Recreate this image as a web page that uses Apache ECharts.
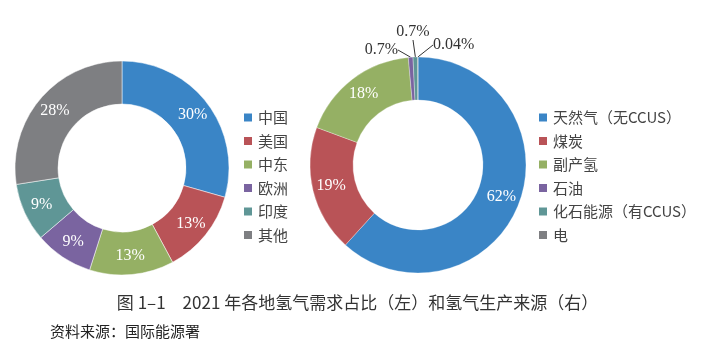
<!DOCTYPE html>
<html>
<head>
<meta charset="utf-8">
<script src="https://cdn.jsdelivr.net/npm/echarts@6/dist/echarts.min.js"></script>
<style>
  html, body { margin: 0; padding: 0; background: #fff; }
  #main { width: 715px; height: 354px; }
</style>
</head>
<body>
<div id="main"></div>
<script>
// 左：各地氢气需求占比
var demandNames = ['中国', '美国', '中东', '欧洲', '印度', '其他'];
var demandValues = [30, 13, 13, 9, 9, 28];
var demandLabels = ['30%', '13%', '13%', '9%', '9%', '28%'];

// 右：氢气生产来源
var sourceNames = ['天然气（无CCUS）', '煤炭', '副产氢', '石油', '化石能源（有CCUS）', '电'];
var sourceValues = [62, 19, 18, 0.7, 0.7, 0.04];
var sourceLabels = ['62%', '19%', '18%', '0.7%', '0.7%', '0.04%'];

var colors = ['#3a85c6', '#b95357', '#95b064', '#7a64a0', '#5f9696', '#7e7f82'];

var serif = 'Liberation Serif';
var cjk = 'Noto Sans CJK SC';

function buildData(names, values, labels, outside) {
    return names.map(function (n, i) {
        var item = { name: n, value: values[i], pct: labels[i] };
        if (outside.indexOf(i) >= 0) {
            item.label = { position: 'outside', color: '#333' };
            item.labelLine = { show: true, length: 6, length2: 0, smooth: false, lineStyle: { color: '#333', width: 1 } };
        }
        return item;
    });
}

var myChart = echarts.init(document.getElementById('main'));

myChart.setOption({
    color: colors,
    animation: false,
    title: [
        {
            text: '图 1–1　2021 年各地氢气需求占比（左）和氢气生产来源（右）',
            left: 'center',
            top: 289,
            textStyle: { fontFamily: cjk, fontSize: 17, fontWeight: 'normal', color: '#333' }
        },
        {
            text: '资料来源：国际能源署',
            left: 45,
            top: 319,
            textStyle: { fontFamily: cjk, fontSize: 15, fontWeight: 'normal', color: '#222' }
        }
    ],
    legend: [
        {
            data: demandNames,
            orient: 'vertical',
            left: 237,
            top: 105,
            icon: 'rect',
            itemWidth: 10,
            itemHeight: 10,
            itemGap: 8.5,
            textStyle: { fontFamily: cjk, fontSize: 15, color: '#444' }
        },
        {
            data: sourceNames,
            orient: 'vertical',
            left: 532,
            top: 105,
            icon: 'rect',
            itemWidth: 10,
            itemHeight: 10,
            itemGap: 8.5,
            textStyle: { fontFamily: cjk, fontSize: 15, color: '#444' }
        }
    ],
    series: [
        {
            type: 'pie',
            center: [122, 168],
            radius: [64, 107],
            startAngle: 90,
            clockwise: true,
            itemStyle: { borderColor: '#fff', borderWidth: 0.5 },
            label: {
                position: 'inside',
                color: '#fff',
                fontFamily: serif,
                fontSize: 16,
                formatter: function (p) { return p.data.pct; }
            },
            labelLine: { show: false },
            data: buildData(demandNames, demandValues, demandLabels, [])
        },
        {
            type: 'pie',
            center: [418, 165],
            radius: [65, 108],
            startAngle: 90,
            clockwise: true,
            itemStyle: { borderColor: '#fff', borderWidth: 0.3 },
            label: {
                position: 'inside',
                color: '#fff',
                fontFamily: serif,
                fontSize: 16,
                formatter: function (p) { return p.data.pct; }
            },
            labelLine: { show: false },
            labelLayout: function (p) {
                if (p.dataIndex === 3) return { x: 398, y: 50, align: 'right', verticalAlign: 'middle' };
                if (p.dataIndex === 4) return { x: 413, y: 32, align: 'center', verticalAlign: 'middle' };
                if (p.dataIndex === 5) return { x: 433, y: 45, align: 'left', verticalAlign: 'middle' };
            },
            data: buildData(sourceNames, sourceValues, sourceLabels, [3, 4, 5])
        }
    ]
});
</script>
</body>
</html>
